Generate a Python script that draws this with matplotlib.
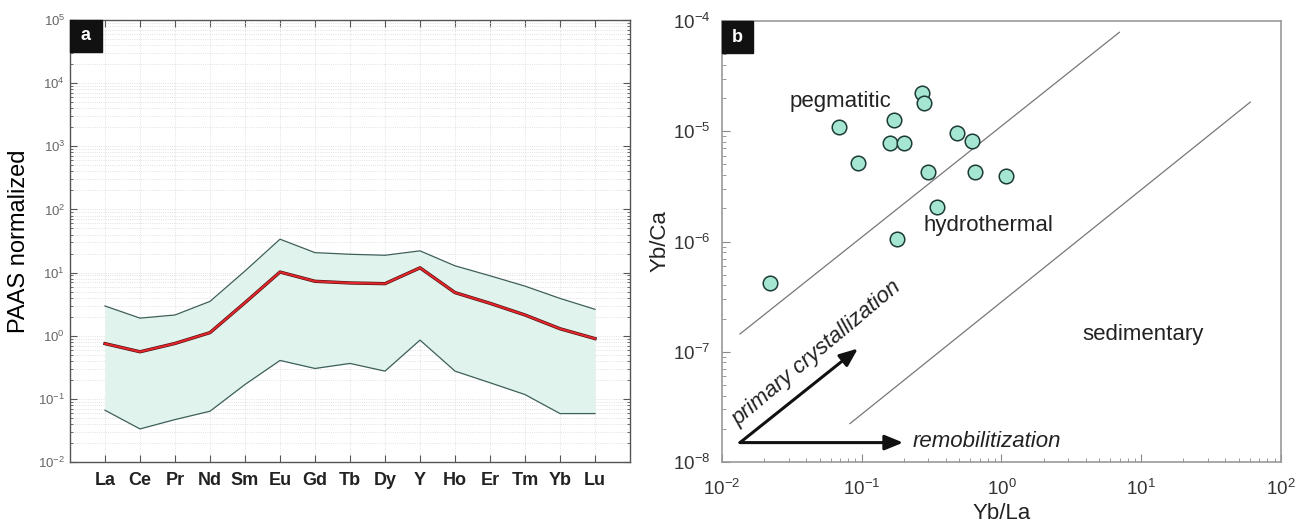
import numpy as np
import matplotlib.pyplot as plt
from matplotlib.patches import Rectangle
from matplotlib.ticker import LogLocator, NullFormatter

plt.rcParams['font.family'] = ['Liberation Sans', 'DejaVu Sans']

# panel a : PAAS normalized REE + Y patterns
elements = ['La', 'Ce', 'Pr', 'Nd', 'Sm', 'Eu', 'Gd', 'Tb', 'Dy', 'Y',
            'Ho', 'Er', 'Tm', 'Yb', 'Lu']
ree_max = [2.96, 1.9, 2.13, 3.5, 10.6, 33.8, 20.7, 19.5, 18.8, 22.1,
           12.8, 8.9, 6.1, 3.9, 2.62]
ree_mean = [0.75, 0.557, 0.755, 1.12, 3.34, 10.2, 7.28, 6.85, 6.68, 11.9,
            4.82, 3.26, 2.13, 1.29, 0.90]
ree_min = [0.066, 0.0334, 0.047, 0.0637, 0.169, 0.406, 0.303, 0.364, 0.275,
           0.853, 0.275, 0.18, 0.117, 0.0585, 0.0585]

# panel b : Yb/La vs Yb/Ca
yb_la = [0.0221, 0.0684, 0.094, 0.170, 0.159, 0.200, 0.268, 0.277, 0.299,
         0.344, 0.180, 0.479, 0.612, 0.647, 1.08]
yb_ca = [4.17e-7, 1.10e-5, 5.16e-6, 1.27e-5, 7.80e-6, 7.75e-6, 2.23e-5,
         1.79e-5, 4.25e-6, 2.04e-6, 1.06e-6, 9.55e-6, 8.13e-6, 4.28e-6, 3.91e-6]

# field boundaries (end points)
upper_x = [0.01346, 6.98]
upper_y = [1.45e-7, 7.9e-5]
lower_x = [0.0824, 60.4]
lower_y = [2.23e-8, 1.84e-5]

fig = plt.figure(figsize=(13.06, 5.24), dpi=100)
ax1 = fig.add_axes([0.0536, 0.1183, 0.4288, 0.8435])
ax2 = fig.add_axes([0.5528, 0.1183, 0.4280, 0.8416])

# ---- panel a ----
x = np.arange(len(elements))
ax1.fill_between(x, ree_min, ree_max, color='#e1f3ed', lw=0, zorder=1)
ax1.plot(x, ree_max, color='#3e5f5a', lw=0.9, zorder=2)
ax1.plot(x, ree_min, color='#3e5f5a', lw=0.9, zorder=2)
ax1.plot(x, ree_mean, color='#4a1010', lw=2.4, zorder=3)
ax1.plot(x, ree_mean, color='#e3262b', lw=1.5, zorder=4)

ax1.set_yscale('log')
ax1.set_ylim(1e-2, 1e5)
ax1.set_xlim(-1, 15)
ax1.set_yticks([10.0 ** k for k in range(-2, 6)])
ax1.yaxis.set_minor_locator(LogLocator(base=10, subs=np.arange(2, 10), numticks=20))
ax1.yaxis.set_minor_formatter(NullFormatter())
ax1.set_xticks(x)
ax1.set_xticklabels(elements, fontsize=13, fontweight='bold', color='#222222')
ax1.tick_params(axis='y', which='both', direction='in', right=True,
                labelsize=9.5, labelcolor='#666666', color='#555555')
ax1.tick_params(axis='y', which='major', length=5)
ax1.tick_params(axis='y', which='minor', length=2.5)
ax1.tick_params(axis='x', direction='in', top=True, length=5, pad=7,
                color='#555555')
ax1.grid(True, which='both', axis='y', color='#d8d8d8', ls=':', lw=0.6)
ax1.grid(True, which='major', axis='x', color='#d8d8d8', ls=':', lw=0.6)
ax1.set_axisbelow(True)
for sp in ax1.spines.values():
    sp.set_color('#555555')
    sp.set_linewidth(1.0)
ax1.set_ylabel('PAAS normalized', fontsize=17, labelpad=6)

ax1.add_patch(Rectangle((0, 1 - 0.0717), 0.0566, 0.0717, transform=ax1.transAxes,
                        color='#111111', zorder=10, clip_on=False))
ax1.text(0.0283, 1 - 0.0358, 'a', transform=ax1.transAxes, color='white',
         fontsize=13, fontweight='bold', ha='center', va='center', zorder=11)

# ---- panel b ----
ax2.set_xscale('log')
ax2.set_yscale('log')
ax2.set_xlim(1e-2, 1e2)
ax2.set_ylim(1e-8, 1e-4)
ax2.plot(upper_x, upper_y, color='#777777', lw=0.9)
ax2.plot(lower_x, lower_y, color='#777777', lw=0.9)
ax2.scatter(yb_la, yb_ca, s=110, facecolor='#a5e6d3', edgecolor='#1d3b35',
            linewidth=1.1, zorder=5)

ax2.text(0.0307, 1.85e-5, 'pegmatitic', fontsize=16, va='center', color='#222222')
ax2.text(0.275, 1.41e-6, 'hydrothermal', fontsize=16, va='center', color='#222222')
ax2.text(3.77, 1.44e-7, 'sedimentary', fontsize=16, va='center', color='#222222')

arrow_style = dict(arrowstyle='-|>,head_length=1.1,head_width=0.45',
                   color='#111111', lw=2.2, shrinkA=0, shrinkB=0)
ax2.annotate('', xy=(0.094, 1.07e-7), xytext=(0.01346, 1.5e-8),
             arrowprops=arrow_style)
ax2.annotate('', xy=(0.198, 1.5e-8), xytext=(0.01346, 1.5e-8),
             arrowprops=arrow_style)
ax2.text(0.0479, 9.6e-8, 'primary crystallization', fontsize=16, style='italic',
         rotation=40, rotation_mode='anchor', ha='center', va='center',
         color='#222222')
ax2.text(0.232, 1.55e-8, 'remobilitization', fontsize=16, style='italic',
         va='center', color='#222222')

for axis in (ax2.xaxis, ax2.yaxis):
    axis.set_minor_locator(LogLocator(base=10, subs=np.arange(2, 10), numticks=20))
    axis.set_minor_formatter(NullFormatter())
ax2.set_xticks([10.0 ** k for k in range(-2, 3)])
ax2.set_yticks([10.0 ** k for k in range(-8, -3)])
ax2.tick_params(which='both', direction='in', labelsize=13.5, labelcolor='#333333',
                color='#888888')
ax2.tick_params(which='major', length=6, pad=8)
ax2.tick_params(axis='x', which='major', pad=12)
ax2.tick_params(which='minor', length=3)
for sp in ax2.spines.values():
    sp.set_color('#999999')
    sp.set_linewidth(1.2)
ax2.set_xlabel('Yb/La', fontsize=16, labelpad=3, color='#222222')
ax2.set_ylabel('Yb/Ca', fontsize=16, labelpad=2, color='#222222')

ax2.add_patch(Rectangle((0, 1 - 0.0726), 0.055, 0.0726, transform=ax2.transAxes,
                        color='#111111', zorder=10, clip_on=False))
ax2.text(0.0275, 1 - 0.0363, 'b', transform=ax2.transAxes, color='white',
         fontsize=13, fontweight='bold', ha='center', va='center', zorder=11)

fig.savefig('out.png', dpi=100)
